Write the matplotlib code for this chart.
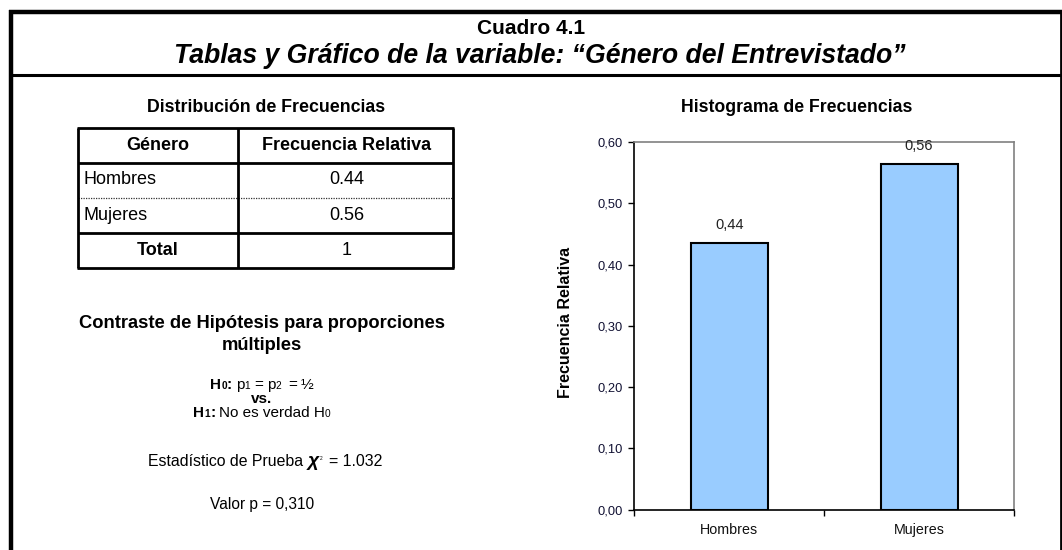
import matplotlib
matplotlib.use("Agg")
import matplotlib.pyplot as plt
from matplotlib.lines import Line2D

plt.rcParams['font.family'] = ['Liberation Sans', 'DejaVu Sans']

# ---- data ----
categories = ["Hombres", "Mujeres"]
rel_freq = [27 / 62, 35 / 62]
bar_labels = ["0,44", "0,56"]
table_values = ["0.44", "0.56"]
table_total = "1"
yticks = [0.0, 0.1, 0.2, 0.3, 0.4, 0.5, 0.6]
ytick_labels = ["0,00", "0,10", "0,20", "0,30", "0,40", "0,50", "0,60"]
chi2_text = "1.032"
p_value_text = "0,310"

W, H = 1062, 550
fig = plt.figure(figsize=(W / 100, H / 100), dpi=100)
renderer = fig.canvas.get_renderer()


def fx(x):
    return x / W


def fy(y):
    return 1 - y / H


def hline(x0, x1, y, lw=1.5, ls='-', color='black'):
    fig.add_artist(Line2D([fx(x0), fx(x1)], [fy(y), fy(y)], lw=lw, ls=ls,
                          color=color, transform=fig.transFigure,
                          solid_capstyle='butt'))


def vline(x, y0, y1, lw=1.5, color='black'):
    fig.add_artist(Line2D([fx(x), fx(x)], [fy(y0), fy(y1)], lw=lw,
                          color=color, transform=fig.transFigure,
                          solid_capstyle='butt'))


def txt(x, y, s, **kw):
    kw.setdefault('ha', 'center')
    kw.setdefault('va', 'center')
    return fig.text(fx(x), fy(y), s, **kw)


def seg_line(xc, ybase, segs):
    """segs: list of (text, kwargs, dy_up_px, gap_before_px)"""
    objs = []
    total = 0
    for s, kw, dy, gap in segs:
        t = fig.text(0, 0, s, ha='left', va='baseline', **kw)
        w = t.get_window_extent(renderer).width
        objs.append((t, w, dy, gap))
        total += w + gap
    x = xc - total / 2
    for t, w, dy, gap in objs:
        x += gap
        t.set_position((fx(x), fy(ybase - dy)))
        x += w


# ---- outer frame ----
hline(9, 1062, 12, lw=3.2)
vline(11, 10, 550, lw=3.2)
vline(1061, 10, 550, lw=2.0)
hline(11, 1062, 75.5, lw=2.2)

# ---- titles ----
txt(531, 28.5, "Cuadro 4.1", fontsize=15, fontweight='bold')
txt(540, 56, "Tablas y Gráfico de la variable: “Género del Entrevistado”",
    fontsize=19.2, fontweight='bold', style='italic')

# ---- frequency table ----
txt(266, 107, "Distribución de Frecuencias", fontsize=12.8, fontweight='bold')
L, R, C = 77.5, 453, 238
rows = [127.5, 162.5, 197.5, 233, 267.5]
hline(L - 1, R + 1, rows[0], lw=2)
hline(L, R, rows[1], lw=2)
hline(L, R, rows[2], lw=0.9, ls=(0, (1, 1)), color='#333333')
hline(L, R, rows[3], lw=2)
hline(L - 1, R + 1, rows[4], lw=2)
vline(L, rows[0], rows[4], lw=2)
vline(R, rows[0], rows[4], lw=2)
vline(C, rows[0], rows[4], lw=2)

mid = lambda i: (rows[i] + rows[i + 1]) / 2
FS_T = 13
txt((L + C) / 2, mid(0), "Género", fontsize=FS_T, fontweight='bold')
txt((C + R) / 2 + 1, mid(0), "Frecuencia Relativa", fontsize=FS_T, fontweight='bold')
for i, (cat, val) in enumerate(zip(categories, table_values)):
    txt(L + 6, mid(i + 1), cat, fontsize=FS_T, ha='left')
    txt((C + R) / 2 + 1, mid(i + 1), val, fontsize=FS_T)
txt((L + C) / 2, mid(3), "Total", fontsize=FS_T, fontweight='bold')
txt((C + R) / 2 + 1, mid(3), table_total, fontsize=FS_T)

# ---- hypothesis test ----
txt(262, 324, "Contraste de Hipótesis para proporciones", fontsize=13.2, fontweight='bold')
txt(262, 345, "múltiples", fontsize=13.2, fontweight='bold')

FS = 11
FSS = 7.3
B = dict(fontsize=FS, fontweight='bold')
Bs = dict(fontsize=FSS, fontweight='bold')
N = dict(fontsize=FS)
Ns = dict(fontsize=FSS)
seg_line(262, 389, [("H", B, 0, 0), ("0", Bs, 0, 0), (":", B, 0, 0),
                    ("p", N, 0, 4), ("1", Ns, 0, 0), ("=", N, 0, 4),
                    ("p", N, 0, 4), ("2", Ns, 0, 0), ("=", N, 0, 7),
                    ("½", N, 0, 4)])
txt(262, 399, "vs.", fontsize=FS, fontweight='bold')
seg_line(262, 417, [("H", B, 0, 0), ("1", Bs, 0, 0), (":", B, 0, 0),
                    ("No es verdad H", N, 0, 4), ("0", Ns, 0, 0)])
seg_line(265, 466, [("Estadístico de Prueba", dict(fontsize=11.4), 0, 0),
                    ("χ", dict(fontsize=14, fontweight='bold', style='italic'), 0, 5),
                    ("2", dict(fontsize=3.5), 6, 1),
                    ("= " + chi2_text, dict(fontsize=11.4), 0, 6)])
txt(262, 505, "Valor p = " + p_value_text, fontsize=11.2)

# ---- histogram ----
txt(797, 108, "Histograma de Frecuencias", fontsize=12.7, fontweight='bold')
ax = fig.add_axes([fx(634.3), fy(509.5), fx(1014) - fx(634.3), fy(142.3) - fy(509.5)])
x = list(range(len(categories)))
ax.bar(x, rel_freq, width=0.405, color='#99CCFF', edgecolor='black', linewidth=1.5,
       zorder=2)
for xi, v, lab in zip(x, rel_freq, bar_labels):
    ax.annotate(lab, (xi, v), xytext=(0, 8), textcoords='offset points',
                ha='center', va='bottom', fontsize=10.5, color='#222222')
ax.set_xlim(-0.5, len(categories) - 0.5)
ax.set_ylim(0, 0.6)
ax.set_yticks(yticks)
ax.set_yticklabels(ytick_labels, fontsize=9.3, color='#111133')
ax.set_xticks(x)
ax.set_xticklabels(categories, fontsize=10.3, color='#111111')
ax.tick_params(axis='x', length=0, pad=10)
ax.set_xticks([-0.5, 0.5, 1.5], minor=True)
ax.tick_params(axis='x', which='minor', length=4, width=1, color='black')
ax.tick_params(axis='y', length=4, width=1, color='black', pad=4)
for s in ['top', 'right']:
    ax.spines[s].set_color('#808080')
    ax.spines[s].set_linewidth(1.2)
for s in ['left', 'bottom']:
    ax.spines[s].set_color('black')
    ax.spines[s].set_linewidth(1.2)

txt(566, 322, "Frecuencia Relativa", fontsize=11.5, fontweight='bold', rotation=90)

fig.savefig("out.png", dpi=100)
